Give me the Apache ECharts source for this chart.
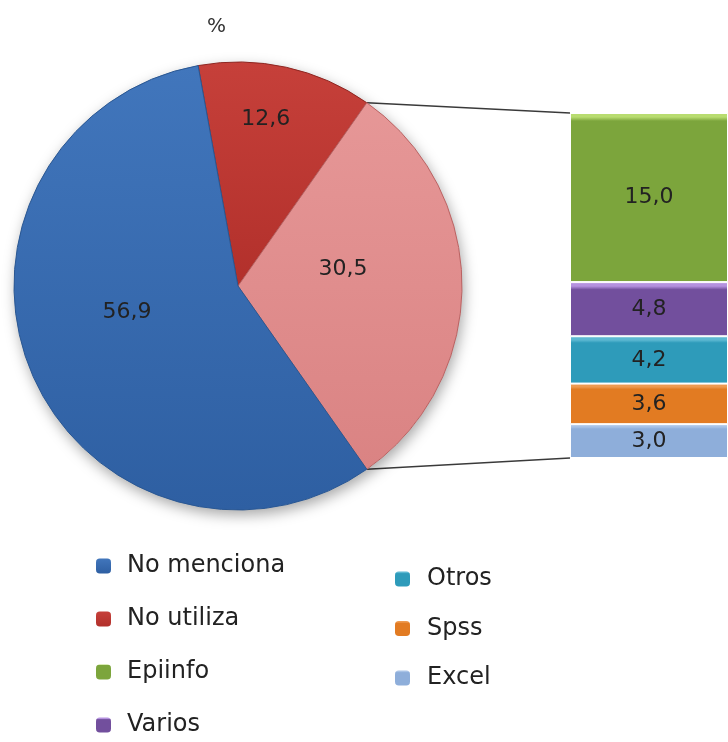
<!DOCTYPE html>
<html>
<head>
<meta charset="utf-8">
<script src="https://cdn.jsdelivr.net/npm/echarts@6/dist/echarts.min.js"></script>
<style>
  html, body { margin: 0; padding: 0; background: #ffffff; }
  #chart { width: 728px; height: 742px; }
</style>
</head>
<body>
<div id="chart"></div>
<script>
// Pie: share of studies by use of statistical software (%)
const pieNames = ['No utiliza', 'Utiliza programa', 'No menciona'];
const pieValues = [12.6, 30.5, 56.9];

// Breakdown of the "uses a program" slice, stacked bottom to top
const barNames = ['Excel', 'Spss', 'Otros', 'Varios', 'Epiinfo'];
const barValues = [3.0, 3.6, 4.2, 4.8, 15.0];

// Legend columns
const legendLeft = ['No menciona', 'No utiliza', 'Epiinfo', 'Varios'];
const legendRight = ['Otros', 'Spss', 'Excel'];

// ---- styling ----
const pieColors = {
  'No utiliza':       { top: '#C6403A', bottom: '#B2302B', border: '#8E2621' },
  'Utiliza programa': { top: '#E69797', bottom: '#DA8383', border: '#B96262' },
  'No menciona':      { top: '#4176BC', bottom: '#2E5FA2', border: '#2A5792' }
};
const barColors = {
  'Excel':   { base: '#8EAEDA', hi: '#A9C3E6' },
  'Spss':    { base: '#E27B22', hi: '#EE9A50' },
  'Otros':   { base: '#2E9BBA', hi: '#5CB8D2' },
  'Varios':  { base: '#724F9D', hi: '#B592DF' },
  'Epiinfo': { base: '#7CA53C', hi: '#B8DC70' }
};
// label nudges for the pie, by data index
const pieLabelShift = [[3, -54], [-10, -17], [-5, -18]];

const center = [238, 286];
const radius = 224;
const gridLeft = 570, gridTop = 113, gridWidth = 160, gridHeight = 345;

const fmt = v => v.toFixed(1).replace('.', ',');
const barTotal = barValues.reduce((a, b) => a + b, 0);
// keep the breakdown slice centred on the right-hand horizontal
const startAngle = pieValues[1] * 1.8 + pieValues[0] * 3.6;

function vGrad(top, bottom) {
  return new echarts.graphic.LinearGradient(0, 0, 0, 1, [
    { offset: 0, color: top }, { offset: 1, color: bottom }
  ]);
}

// Connector lines from the breakdown slice edges to the ends of the stacked bar
function connectors() {
  const a1 = (startAngle - pieValues[0] * 3.6) * Math.PI / 180;
  const a2 = (startAngle - (pieValues[0] + pieValues[1]) * 3.6) * Math.PI / 180;
  const p1 = [center[0] + radius * Math.cos(a1), center[1] - radius * Math.sin(a1)];
  const p2 = [center[0] + radius * Math.cos(a2), center[1] - radius * Math.sin(a2)];
  // y axis runs 0..barTotal over the grid, so its ends are the grid's top and bottom
  const yTop = gridTop, yBot = gridTop + gridHeight;
  const style = { stroke: '#3a3a3a', lineWidth: 1.4 };
  return [
    { type: 'line', z: 0, silent: true, shape: { x1: p1[0], y1: p1[1], x2: gridLeft, y2: yTop }, style: style },
    { type: 'line', z: 0, silent: true, shape: { x1: p2[0], y1: p2[1], x2: gridLeft, y2: yBot }, style: style }
  ];
}

const chart = echarts.init(document.getElementById('chart'), null, { renderer: 'canvas' });

const barSeries = barNames.map((name, i) => {
  const c = barColors[name];
  const h = barValues[i] / barTotal * gridHeight;
  return {
    name: name,
    type: 'bar',
    stack: 'uso',
    barWidth: '100%',
    z: 3,
    itemStyle: {
      color: new echarts.graphic.LinearGradient(0, 0, 0, 1, [
        { offset: 0, color: c.hi },
        { offset: Math.min(0.08, 4 / h), color: c.hi },
        { offset: Math.min(0.14, 8 / h), color: c.base },
        { offset: 1, color: c.base }
      ]),
      borderColor: '#ffffff',
      borderWidth: 1
    },
    label: {
      show: true,
      position: 'inside',
      formatter: p => fmt(p.value),
      fontFamily: 'DejaVu Sans',
      fontSize: 22,
      color: '#222222'
    },
    emphasis: { disabled: true },
    data: [barValues[i]]
  };
});

const legendText = { fontFamily: 'DejaVu Sans', fontSize: 24, color: '#222222', lineHeight: 24 };

chart.setOption({
  animation: false,
  backgroundColor: '#ffffff',
  title: {
    text: '%',
    left: 202,
    top: 12,
    textStyle: { fontFamily: 'DejaVu Sans', fontSize: 20, fontWeight: 'normal', color: '#333333' }
  },
  legend: [
    {
      data: legendLeft,
      orient: 'vertical',
      left: 96,
      top: 554,
      padding: 0,
      itemWidth: 15,
      itemHeight: 15,
      itemGap: 29,
      icon: 'roundRect',
      selectedMode: false,
      itemStyle: { borderWidth: 0 },
      textStyle: Object.assign({ padding: [0, 0, 0, 11] }, legendText)
    },
    {
      data: legendRight,
      orient: 'vertical',
      left: 395,
      top: 567,
      padding: 0,
      itemWidth: 15,
      itemHeight: 15,
      itemGap: 25.5,
      icon: 'roundRect',
      selectedMode: false,
      itemStyle: { borderWidth: 0 },
      textStyle: Object.assign({ padding: [0, 0, 0, 12] }, legendText)
    }
  ],
  grid: { left: gridLeft, top: gridTop, width: gridWidth, height: gridHeight },
  xAxis: { type: 'category', data: [''], show: false },
  yAxis: { type: 'value', min: 0, max: barTotal, show: false },
  graphic: connectors(),
  series: [
    {
      // soft drop shadow under the pie
      type: 'pie',
      center: center,
      radius: radius,
      silent: true,
      z: 1,
      label: { show: false },
      labelLine: { show: false },
      itemStyle: {
        color: '#ffffff',
        shadowBlur: 14,
        shadowOffsetX: 2,
        shadowOffsetY: 5,
        shadowColor: 'rgba(0,0,0,0.35)'
      },
      data: [{ name: 'sombra', value: 1 }]
    },
    {
      type: 'pie',
      center: center,
      radius: radius,
      startAngle: startAngle,
      clockwise: true,
      z: 2,
      emphasis: { disabled: true },
      label: {
        show: true,
        position: 'inside',
        formatter: p => fmt(p.value),
        fontFamily: 'DejaVu Sans',
        fontSize: 22,
        color: '#222222'
      },
      labelLayout: p => ({ dx: pieLabelShift[p.dataIndex][0], dy: pieLabelShift[p.dataIndex][1] }),
      data: pieNames.map((name, i) => ({
        name: name,
        value: pieValues[i],
        itemStyle: {
          color: vGrad(pieColors[name].top, pieColors[name].bottom),
          borderColor: pieColors[name].border,
          borderWidth: 1
        }
      }))
    }
  ].concat(barSeries)
});
</script>
</body>
</html>
